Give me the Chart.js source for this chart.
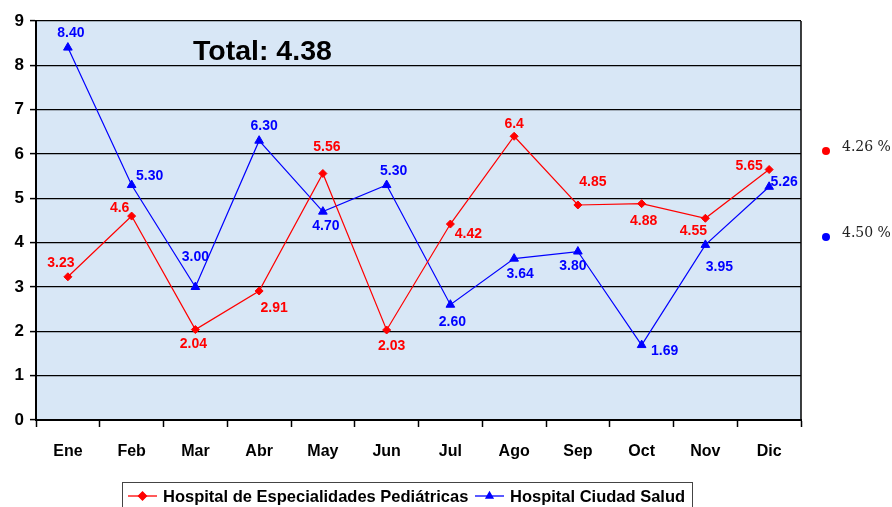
<!DOCTYPE html>
<html>
<head>
<meta charset="utf-8">
<script src="https://cdn.jsdelivr.net/npm/chart.js@4.4.0/dist/chart.umd.min.js"></script>
<style>
  html, body { margin: 0; padding: 0; background: #fff; }
  #wrap { width: 892px; height: 507px; position: relative; }
</style>
</head>
<body>
<div id="wrap"><canvas id="c" width="892" height="507"></canvas></div>
<script>
const months = ["Ene", "Feb", "Mar", "Abr", "May", "Jun", "Jul", "Ago", "Sep", "Oct", "Nov", "Dic"];
const pediatricas = [3.23, 4.6, 2.04, 2.91, 5.56, 2.03, 4.42, 6.4, 4.85, 4.88, 4.55, 5.65];
const pediatricasText = ["3.23", "4.6", "2.04", "2.91", "5.56", "2.03", "4.42", "6.4", "4.85", "4.88", "4.55", "5.65"];
const ciudadSalud = [8.40, 5.30, 3.00, 6.30, 4.70, 5.30, 2.60, 3.64, 3.80, 1.69, 3.95, 5.26];
const ciudadSaludText = ["8.40", "5.30", "3.00", "6.30", "4.70", "5.30", "2.60", "3.64", "3.80", "1.69", "3.95", "5.26"];
const seriesNames = ["Hospital de Especialidades Pediátricas", "Hospital Ciudad Salud"];
const seriesAverages = ["4.26 %", "4.50 %"];
const totalText = "Total: 4.38";

// where each value label sits relative to its point (dx, dy)
const redOffsets = [[-7,-14],[-12,-8],[-2,15],[15,17],[4,-26],[5,16],[18,10],[0,-12],[15,-23],[2,17],[-12,13],[-20,-3]];
const blueOffsets = [[3,-14],[18,-9],[0,-30],[5,-15],[3,15],[7,-14],[2,17],[6,16],[-5,15],[23,6],[14,22],[15,-5]];

const RED = "#ff0000", BLUE = "#0000ff";
const BOLD = "'Liberation Sans', Arial, sans-serif";

const extras = {
  id: "extras",
  beforeDraw(chart) {
    const { ctx, chartArea: a } = chart;
    ctx.save();
    ctx.fillStyle = "#d8e7f6";
    ctx.fillRect(a.left, a.top, a.right - a.left, a.bottom - a.top);
    ctx.restore();
  },
  afterDatasetsDraw(chart) {
    const { ctx, chartArea: a } = chart;
    ctx.save();
    // frame
    ctx.strokeStyle = "#000";
    ctx.lineWidth = 1.5;
    ctx.beginPath();
    ctx.moveTo(a.right, a.top);
    ctx.lineTo(a.right, a.bottom);
    ctx.stroke();

    // value labels
    ctx.font = "bold 14px " + BOLD;
    ctx.textAlign = "center";
    ctx.textBaseline = "middle";
    const sets = [[pediatricasText, redOffsets, RED], [ciudadSaludText, blueOffsets, BLUE]];
    sets.forEach(([texts, offs, col], di) => {
      const meta = chart.getDatasetMeta(di);
      ctx.fillStyle = col;
      meta.data.forEach((pt, i) => {
        ctx.fillText(texts[i], pt.x + offs[i][0], pt.y + offs[i][1]);
      });
    });

    // title
    ctx.fillStyle = "#000";
    ctx.font = "bold 28.5px " + BOLD;
    ctx.textAlign = "left";
    ctx.fillText(totalText, 193, 52);

    // averages on the right
    ctx.font = "14px 'DejaVu Serif', 'Liberation Serif', serif";
    [[RED, 151], [BLUE, 237]].forEach(([col, y], i) => {
      ctx.fillStyle = col;
      ctx.beginPath();
      ctx.arc(826, y, 4, 0, Math.PI * 2);
      ctx.fill();
      ctx.fillStyle = "#222";
      ctx.fillText(seriesAverages[i], 842, y - 4);
    });

    // legend box
    ctx.strokeStyle = "#444";
    ctx.lineWidth = 1;
    ctx.strokeRect(122.5, 482.5, 570, 30);
    ctx.font = "bold 16.5px " + BOLD;
    ctx.fillStyle = "#000";
    const items = [[128, RED, "rectRot", 163], [475, BLUE, "triangle", 510]];
    items.forEach(([x, col, shape, tx], i) => {
      ctx.strokeStyle = col;
      ctx.lineWidth = 1.3;
      ctx.beginPath();
      ctx.moveTo(x, 496);
      ctx.lineTo(x + 29, 496);
      ctx.stroke();
      ctx.fillStyle = col;
      Chart.helpers.drawPoint(ctx, { pointStyle: shape, radius: 4, borderWidth: 1 }, x + 14.5, 496);
      ctx.fill();
      ctx.fillStyle = "#000";
      ctx.fillText(seriesNames[i], tx, 497);
    });
    ctx.restore();
  }
};

new Chart(document.getElementById("c"), {
  type: "line",
  data: {
    labels: months,
    datasets: [
      {
        label: seriesNames[0],
        data: pediatricas,
        borderColor: RED,
        backgroundColor: RED,
        borderWidth: 1.2,
        pointStyle: "rectRot",
        pointRadius: 4,
        pointBorderWidth: 1,
        tension: 0
      },
      {
        label: seriesNames[1],
        data: ciudadSalud,
        borderColor: BLUE,
        backgroundColor: BLUE,
        borderWidth: 1.2,
        pointStyle: "triangle",
        pointRadius: 5,
        pointBorderWidth: 1,
        tension: 0
      }
    ]
  },
  options: {
    responsive: false,
    animation: false,
    devicePixelRatio: 1,
    layout: { padding: { top: 21, right: 91, left: 0, bottom: 0 } },
    plugins: { legend: { display: false }, tooltip: { enabled: false } },
    scales: {
      x: {
        offset: true,
        grid: { offset: true, drawOnChartArea: false, color: "#000", tickLength: 7, tickWidth: 1.5 },
        border: { color: "#000", width: 2 },
        ticks: { color: "#000", font: { family: BOLD, size: 16, weight: "bold" }, padding: 15 },
        afterFit(s) { s.height = 87; }
      },
      y: {
        min: 0,
        max: 9,
        grid: { color: "#000", lineWidth: 1.2, tickLength: 6, tickWidth: 1.5 },
        border: { color: "#000", width: 2 },
        ticks: { stepSize: 1, color: "#000", font: { family: BOLD, size: 17, weight: "bold" }, padding: 6 },
        afterFit(s) { s.width = 36; }
      }
    }
  },
  plugins: [extras]
});
</script>
</body>
</html>
